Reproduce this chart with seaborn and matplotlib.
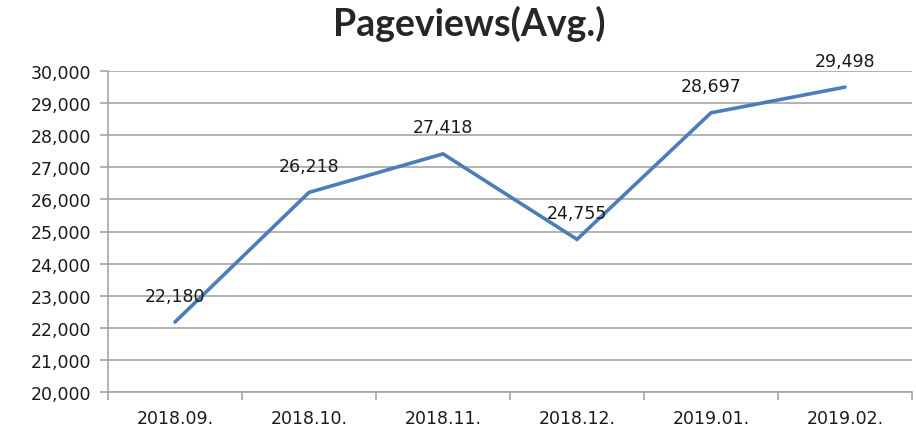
import numpy as np
import pandas as pd
import matplotlib
matplotlib.use('Agg')
import matplotlib.pyplot as plt
import seaborn as sns
from matplotlib.ticker import FuncFormatter, FixedLocator

months = ['2018.09.', '2018.10.', '2018.11.', '2018.12.', '2019.01.', '2019.02.']
pageviews = [22180, 26218, 27418, 24755, 28697, 29498]
yticks = list(range(20000, 31000, 1000))

df = pd.DataFrame({'month': months, 'pv': pageviews})

sns.set_style('white')
plt.rcParams['font.family'] = ['DejaVu Sans']

fig = plt.figure(figsize=(9.16, 4.31), dpi=100)
ax = fig.add_axes([108/916, 1-393/431, (912-108)/916, (393-72)/431])

sns.lineplot(data=df, x='month', y='pv', ax=ax, color='#4A7EBB', linewidth=2.6,
             sort=False, solid_joinstyle='miter')

# data labels
for i, v in enumerate(pageviews):
    ax.annotate(f'{v:,}', (i, v), xytext=(0, 19), textcoords='offset points',
                ha='center', va='center', fontsize=12.5, color='#1a1a1a')

ax.set_xlim(-0.5, len(months) - 0.5)
ax.set_ylim(20000, 30000)
ax.set_yticks(yticks)
ax.yaxis.set_major_formatter(FuncFormatter(lambda v, p: f'{int(v):,}'))
ax.grid(axis='y', color='#A6A6A6', linewidth=1.2)
ax.set_axisbelow(True)

# category boundary ticks, like Excel
ax.set_xticks(range(len(months)))
ax.set_xticklabels(months)
ax.xaxis.set_minor_locator(FixedLocator(np.arange(-0.5, len(months), 1.0)))
ax.tick_params(axis='x', which='major', length=0, pad=12, labelsize=12.5, labelcolor='#1a1a1a')
ax.tick_params(axis='x', which='minor', length=6, width=1.2, color='#A6A6A6', direction='out', bottom=True)
ax.tick_params(axis='y', length=6, width=1.2, color='#A6A6A6', direction='out', left=True,
               labelsize=12.5, labelcolor='#1a1a1a', pad=6)

for s in ['top', 'right']:
    ax.spines[s].set_visible(False)
for s in ['left', 'bottom']:
    ax.spines[s].set_color('#A6A6A6')
    ax.spines[s].set_linewidth(1.2)

ax.set_xlabel('')
ax.set_ylabel('')
fig.text(469/916, 1-24/431, 'Pageviews(Avg.)', ha='center', va='center',
         fontsize=27, fontweight='bold', family=['Lato', 'DejaVu Sans'])

fig.savefig('out.png', dpi=100)
